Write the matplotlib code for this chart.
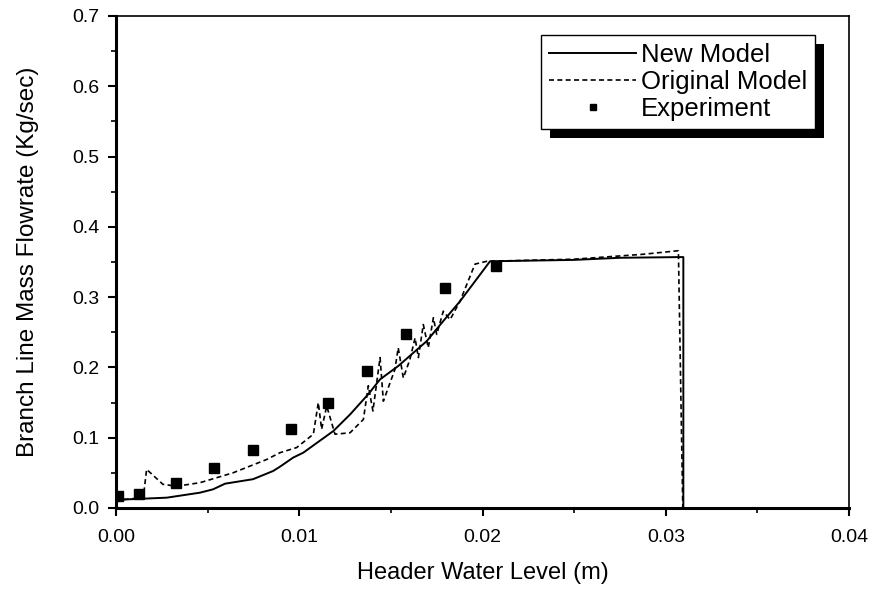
import matplotlib
matplotlib.use("Agg")
import matplotlib.pyplot as plt
from matplotlib.patches import Rectangle
from matplotlib.transforms import IdentityTransform

plt.rcParams['font.family'] = ['Liberation Sans', 'DejaVu Sans']

# Experiment data
exp_x = [0.0001, 0.00126, 0.00327, 0.00533, 0.00749, 0.00953, 0.01159, 0.01371, 0.01581, 0.01795, 0.02074]
exp_y = [0.017, 0.020, 0.035, 0.057, 0.0825, 0.113, 0.149, 0.195, 0.248, 0.313, 0.345]

# New Model (solid)
new_x = [0.0, 0.00013, 0.00038, 0.00186, 0.00277, 0.00458, 0.00529, 0.00595, 0.00748, 0.00857, 0.00895,
         0.00966, 0.01022, 0.01186, 0.01277, 0.01377, 0.01441, 0.0154, 0.01696, 0.01786, 0.01877,
         0.02041, 0.0250, 0.02750, 0.03078, 0.03096, 0.03096]
new_y = [0.008, 0.010, 0.012, 0.0137, 0.0147, 0.0218, 0.0265, 0.0346, 0.041, 0.0526, 0.0588,
         0.0716, 0.0787, 0.1095, 0.133, 0.162, 0.183, 0.202, 0.2375, 0.266, 0.294,
         0.351, 0.353, 0.356, 0.357, 0.357, 0.0]

# Original Model (dashed)
orig_x = [0.0, 0.00013, 0.00038, 0.00149, 0.00167, 0.00256, 0.00331, 0.00458, 0.00638, 0.00822, 0.00895,
          0.00986, 0.01077, 0.01104, 0.01122, 0.0115, 0.01195, 0.01277, 0.0135, 0.01377, 0.01402,
          0.01441, 0.01459, 0.01522, 0.0154, 0.01568, 0.01604, 0.01632, 0.0165, 0.01677, 0.01704,
          0.01732, 0.0175, 0.01786, 0.01823, 0.01877, 0.01959, 0.02023, 0.0250, 0.02877, 0.03051,
          0.03069, 0.03093]
orig_y = [0.008, 0.010, 0.012, 0.0147, 0.055, 0.0337, 0.031, 0.036, 0.050, 0.069, 0.0787,
          0.086, 0.105, 0.150, 0.112, 0.145, 0.105, 0.107, 0.126, 0.174, 0.138,
          0.214, 0.152, 0.197, 0.228, 0.185, 0.2115, 0.242, 0.214, 0.261, 0.228,
          0.2707, 0.247, 0.280, 0.268, 0.294, 0.347, 0.351, 0.354, 0.361, 0.3656,
          0.366, 0.0]

fig = plt.figure(figsize=(8.75, 5.92), dpi=100)
ax = fig.add_axes([116/875, 1-508/592, (849-116)/875, (508-16)/592])

ax.plot(new_x, new_y, color='black', lw=1.4, label='New Model')
ax.plot(orig_x, orig_y, color='black', lw=1.2, linestyle=(0, (3, 2)), label='Original Model')
ax.plot(exp_x, exp_y, linestyle='none', marker='s', markersize=7.5, color='black',
        label='Experiment')

ax.set_xlim(0, 0.04)
ax.set_ylim(0, 0.7)
ax.set_xticks([0.0, 0.01, 0.02, 0.03, 0.04])
ax.set_xticklabels(['0.00', '0.01', '0.02', '0.03', '0.04'])
ax.set_yticks([0.0, 0.1, 0.2, 0.3, 0.4, 0.5, 0.6, 0.7])
ax.set_yticklabels(['0.0', '0.1', '0.2', '0.3', '0.4', '0.5', '0.6', '0.7'])
ax.set_xticks([0.005, 0.015, 0.025, 0.035], minor=True)
ax.set_yticks([0.05, 0.15, 0.25, 0.35, 0.45, 0.55, 0.65], minor=True)
ax.tick_params(which='major', direction='out', length=6, width=1.5, labelsize=14, pad=6)
ax.tick_params(axis='x', which='major', pad=9)
ax.tick_params(which='minor', direction='out', length=3.5, width=1.2)
ax.tick_params(top=False, right=False, which='both')
for s in ['left', 'bottom']:
    ax.spines[s].set_linewidth(2.2)
for s in ['top', 'right']:
    ax.spines[s].set_linewidth(1.2)

ax.set_xlabel('Header Water Level (m)', fontsize=17, labelpad=12)
ax.set_ylabel('Branch Line Mass Flowrate (Kg/sec)', fontsize=17.5, labelpad=24)

leg = ax.legend(loc='upper right', bbox_to_anchor=(0.954, 0.961), borderaxespad=0,
                fontsize=18.5, frameon=True, fancybox=False, handlelength=3.4,
                handletextpad=0.2, labelspacing=0.12, borderpad=0.3, markerscale=0.6)
leg.get_frame().set_edgecolor('black')
leg.get_frame().set_linewidth(1.0)
leg.get_frame().set_alpha(1)
leg.set_zorder(6)

fig.canvas.draw()
bb = leg.get_window_extent()
off = 9
shadow = Rectangle((bb.x0 + off, bb.y0 - off), bb.width, bb.height,
                   transform=IdentityTransform(), facecolor='black', edgecolor='none',
                   zorder=5, clip_on=False)
ax.add_artist(shadow)

fig.savefig('out.png', dpi=100)
